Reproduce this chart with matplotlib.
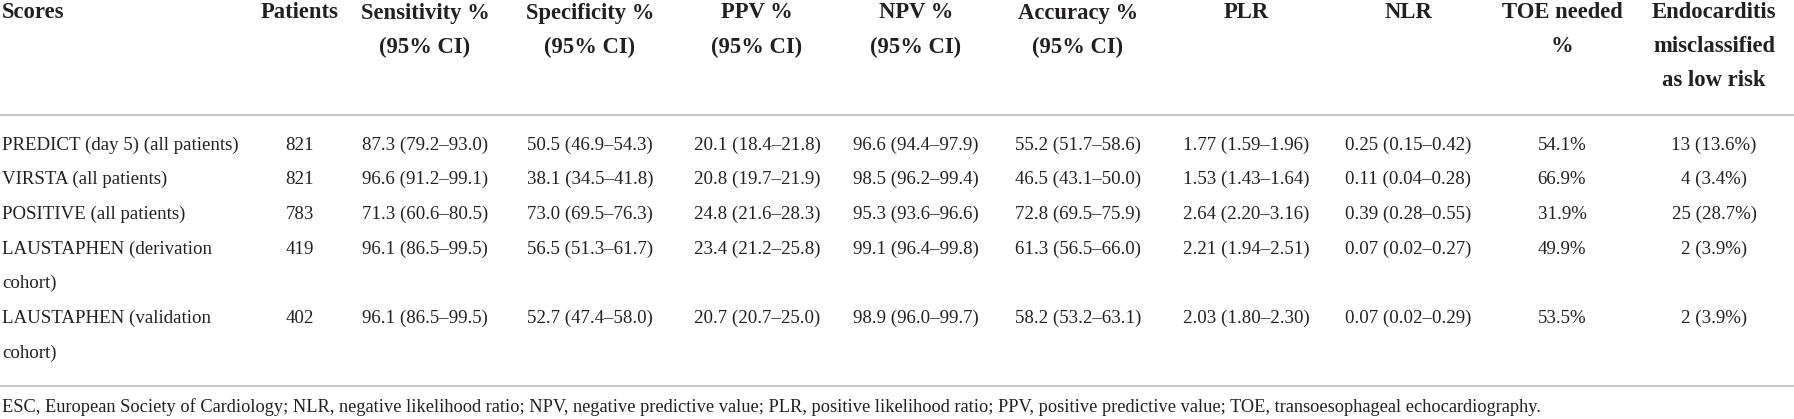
import matplotlib.pyplot as plt

scores = ["PREDICT (day 5) (all patients)", "VIRSTA (all patients)",
          "POSITIVE (all patients)", "LAUSTAPHEN (derivation\ncohort)",
          "LAUSTAPHEN (validation\ncohort)"]
patients = [821, 821, 783, 419, 402]
sensitivity = [(87.3, 79.2, 93.0), (96.6, 91.2, 99.1), (71.3, 60.6, 80.5),
               (96.1, 86.5, 99.5), (96.1, 86.5, 99.5)]
specificity = [(50.5, 46.9, 54.3), (38.1, 34.5, 41.8), (73.0, 69.5, 76.3),
               (56.5, 51.3, 61.7), (52.7, 47.4, 58.0)]
ppv = [(20.1, 18.4, 21.8), (20.8, 19.7, 21.9), (24.8, 21.6, 28.3),
       (23.4, 21.2, 25.8), (20.7, 20.7, 25.0)]
npv = [(96.6, 94.4, 97.9), (98.5, 96.2, 99.4), (95.3, 93.6, 96.6),
       (99.1, 96.4, 99.8), (98.9, 96.0, 99.7)]
accuracy = [(55.2, 51.7, 58.6), (46.5, 43.1, 50.0), (72.8, 69.5, 75.9),
            (61.3, 56.5, 66.0), (58.2, 53.2, 63.1)]
plr = [(1.77, 1.59, 1.96), (1.53, 1.43, 1.64), (2.64, 2.20, 3.16),
       (2.21, 1.94, 2.51), (2.03, 1.80, 2.30)]
nlr = [(0.25, 0.15, 0.42), (0.11, 0.04, 0.28), (0.39, 0.28, 0.55),
       (0.07, 0.02, 0.27), (0.07, 0.02, 0.29)]
toe_needed = [54.1, 66.9, 31.9, 49.9, 53.5]
misclassified = [(13, 13.6), (4, 3.4), (25, 28.7), (2, 3.9), (2, 3.9)]

headers = ["Scores", "Patients", "Sensitivity %\n(95% CI)", "Specificity %\n(95% CI)",
           "PPV %\n(95% CI)", "NPV %\n(95% CI)", "Accuracy %\n(95% CI)", "PLR", "NLR",
           "TOE needed\n%", "Endocarditis\nmisclassified\nas low risk"]
footnote = ("ESC, European Society of Cardiology; NLR, negative likelihood ratio; "
            "NPV, negative predictive value; PLR, positive likelihood ratio; "
            "PPV, positive predictive value; TOE, transoesophageal echocardiography.")


def ci(t, d):
    return f"{t[0]:.{d}f} ({t[1]:.{d}f}\u2013{t[2]:.{d}f})"


def main():
    W, H = 1794, 419
    fig = plt.figure(figsize=(W / 100, H / 100), dpi=100)
    ax = fig.add_axes([0, 0, 1, 1])
    ax.set_xlim(0, W)
    ax.set_ylim(H, 0)
    ax.axis("off")

    font = "Liberation Serif"
    col = "#231f20"
    fs = 13.6
    xs = [2, 300, 425, 590, 757, 916, 1078, 1246, 1408, 1562, 1714]

    # header, bold and a bit bigger than the body
    head_y = [13, 47, 81]
    for i, h in enumerate(headers):
        for k, line in enumerate(h.split("\n")):
            ax.text(xs[i], head_y[k], line, ha="left" if i == 0 else "center",
                    va="center", fontsize=16.3, fontweight="bold", family=font, color=col)

    ax.plot([0, W], [115, 115], color="#c8c8c8", lw=1.5, solid_capstyle="butt")

    cells = []
    for r in range(len(scores)):
        cells.append([str(patients[r]), ci(sensitivity[r], 1), ci(specificity[r], 1),
                      ci(ppv[r], 1), ci(npv[r], 1), ci(accuracy[r], 1),
                      ci(plr[r], 2), ci(nlr[r], 2), f"{toe_needed[r]:.1f}%",
                      f"{misclassified[r][0]} ({misclassified[r][1]:.1f}%)"])

    step = 34.7
    y = 145
    for r, name in enumerate(scores):
        lines = name.split("\n")
        for k, line in enumerate(lines):
            ax.text(xs[0], y + k * step, line, ha="left", va="center",
                    fontsize=fs, family=font, color=col)
        for c, val in enumerate(cells[r]):
            ax.text(xs[c + 1], y, val, ha="center", va="center",
                    fontsize=fs, family=font, color=col)
        y += step * len(lines)

    ax.plot([0, W], [386, 386], color="#c8c8c8", lw=1.5, solid_capstyle="butt")
    ax.text(xs[0], 407, footnote, ha="left", va="center", fontsize=13.2,
            family=font, color=col)

    fig.savefig("out.png", dpi=100)


if __name__ == '__main__':
    main()
